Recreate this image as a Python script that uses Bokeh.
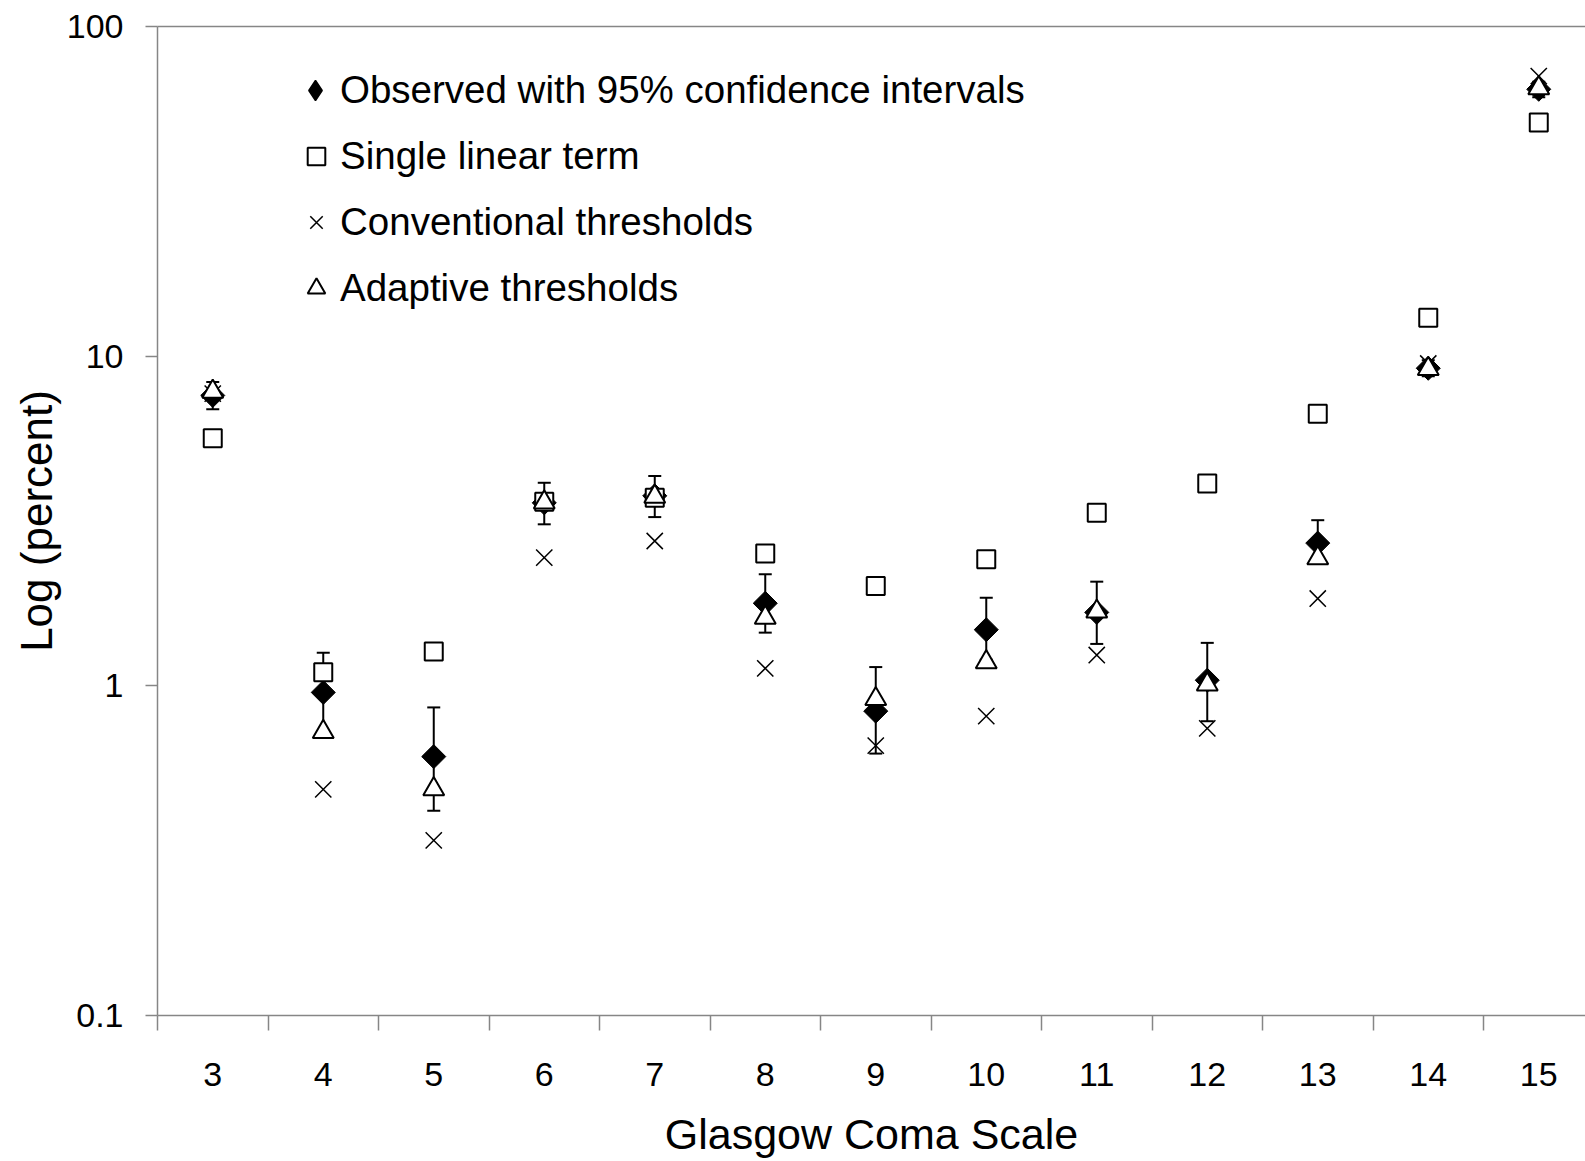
from bokeh.plotting import figure
from bokeh.models import (ColumnDataSource, Range1d, FixedTicker, LinearAxis, Whisker,
                          TeeHead, Legend, LegendItem, CustomJSTickFormatter)
from bokeh.embed import file_html
from bokeh.resources import INLINE
import math

# ---------------- data ----------------
gcs = [3, 4, 5, 6, 7, 8, 9, 10, 11, 12, 13, 14, 15]
observed = [7.6, 0.955, 0.61, 3.59, 3.77, 1.78, 0.838, 1.48, 1.67, 1.04, 2.71, 9.19, 64.5]
ci_lower = [6.9, 0.70, 0.418, 3.09, 3.25, 1.45, 0.623, 1.20, 1.34, 0.781, 2.35, 8.69, 61.0]
ci_upper = [8.35, 1.26, 0.86, 4.13, 4.33, 2.18, 1.14, 1.85, 2.07, 1.35, 3.18, 9.72, 68.0]
single_linear = [5.64, 1.10, 1.27, 3.62, 3.72, 2.52, 2.01, 2.42, 3.35, 4.11, 6.69, 13.08, 51.1]
conventional = [7.7, 0.485, 0.34, 2.45, 2.75, 1.13, 0.659, 0.809, 1.24, 0.743, 1.84, 9.5, 70.7]
adaptive = [7.8, 0.725, 0.486, 3.6, 3.75, 1.61, 0.912, 1.18, 1.68, 1.01, 2.44, 9.15, 65.0]
y_ticks = [0.1, 1, 10, 100]

x_title = "Glasgow Coma Scale"
y_title = "Log (percent)"
legend_labels = ["Observed with 95% confidence intervals", "Single linear term",
                 "Conventional thresholds", "Adaptive thresholds"]

src = ColumnDataSource(dict(x=gcs, obs=observed, lo=ci_lower, hi=ci_upper,
                            lin=single_linear, conv=conventional, adap=adaptive))

AX = "#868686"
FONT = "Liberation Sans"

p = figure(width=1585, height=1161, x_range=Range1d(2.5, 15.423), y_range=Range1d(0.1, 100),
           y_axis_type="log", output_backend="svg", toolbar_location=None, title=None,
           min_border_left=157, min_border_right=0, min_border_top=26, min_border_bottom=146)
p.outline_line_color = None
p.xgrid.visible = False
p.ygrid.visible = False
p.background_fill_color = "white"

# error bars (95% CI)
wh = Whisker(source=src, base="x", lower="lo", upper="hi", line_color="black", line_width=2,
             upper_head=TeeHead(size=13, line_width=2, line_color="black"),
             lower_head=TeeHead(size=13, line_width=2, line_color="black"))
p.add_layout(wh)

r_obs = p.scatter("x", "obs", source=src, marker="square", angle=math.pi / 4, size=17,
                  fill_color="black", line_color="black", line_width=1)
r_lin = p.scatter("x", "lin", source=src, marker="square", size=18, fill_color="white",
                  line_color="black", line_width=2)
r_conv = p.scatter("x", "conv", source=src, marker="x", size=23, line_color="black",
                   line_width=1.5)
r_adap = p.scatter("x", "adap", source=src, marker="triangle", size=21, fill_color="white",
                   line_color="black", line_width=2)
# legend swatch for the observed series (diamond symbol, nothing plotted)
r_obs_key = p.scatter(x=[float("nan")], y=[float("nan")], marker="diamond", size=17,
                      fill_color="black", line_color="black", line_width=1.5)

# axes
xa = p.xaxis[0]
xa.ticker = FixedTicker(ticks=gcs, minor_ticks=[g - 0.5 for g in gcs] + [gcs[-1] + 0.5])
xa.axis_line_color = AX
xa.axis_line_width = 1.5
xa.major_tick_line_color = None
xa.major_tick_out = 15
xa.major_tick_in = 0
xa.minor_tick_line_color = AX
xa.minor_tick_line_width = 1.5
xa.minor_tick_out = 15
xa.minor_tick_in = 0
xa.major_label_text_font = FONT
xa.major_label_text_font_size = "34px"
xa.major_label_text_color = "black"
xa.major_label_standoff = 32
xa.axis_label = x_title
xa.axis_label_text_font = FONT
xa.axis_label_text_font_size = "43px"
xa.axis_label_text_font_style = "normal"
xa.axis_label_text_color = "black"
xa.axis_label_standoff = 21

ya = p.yaxis[0]
ya.ticker = FixedTicker(ticks=y_ticks)
ya.formatter = CustomJSTickFormatter(code="return String(tick);")
ya.axis_line_color = AX
ya.axis_line_width = 1.5
ya.major_tick_line_color = AX
ya.major_tick_line_width = 1.5
ya.major_tick_out = 12
ya.major_tick_in = 0
ya.minor_tick_line_color = None
ya.major_label_text_font = FONT
ya.major_label_text_font_size = "34px"
ya.major_label_text_color = "black"
ya.major_label_standoff = 22
ya.axis_label = y_title
ya.axis_label_text_font = FONT
ya.axis_label_text_font_size = "44px"
ya.axis_label_text_font_style = "normal"
ya.axis_label_text_color = "black"
ya.axis_label_standoff = 3

top = LinearAxis(ticker=FixedTicker(ticks=[]), axis_line_color=AX, axis_line_width=1.5,
                 major_tick_line_color=None, minor_tick_line_color=None,
                 major_label_text_font_size="0px")
p.add_layout(top, "above")

common = dict(orientation="vertical", padding=0, margin=0,
              background_fill_alpha=0, border_line_color=None,
              label_text_font=FONT, label_text_font_size="38.5px", label_text_color="black")

legend_a = Legend(items=[LegendItem(label=legend_labels[0], renderers=[r_obs_key])],
                  location=(133, 898), glyph_width=50, glyph_height=54, label_height=54,
                  label_standoff=0, **common)
legend_b = Legend(items=[LegendItem(label=legend_labels[1], renderers=[r_lin]),
                         LegendItem(label=legend_labels[2], renderers=[r_conv]),
                         LegendItem(label=legend_labels[3], renderers=[r_adap])],
                  location=(137, 705), glyph_width=44, glyph_height=44, label_height=44,
                  spacing=22, label_standoff=2, **common)
p.add_layout(legend_a)
p.add_layout(legend_b)

open("out.html", "w").write(file_html(p, INLINE))
